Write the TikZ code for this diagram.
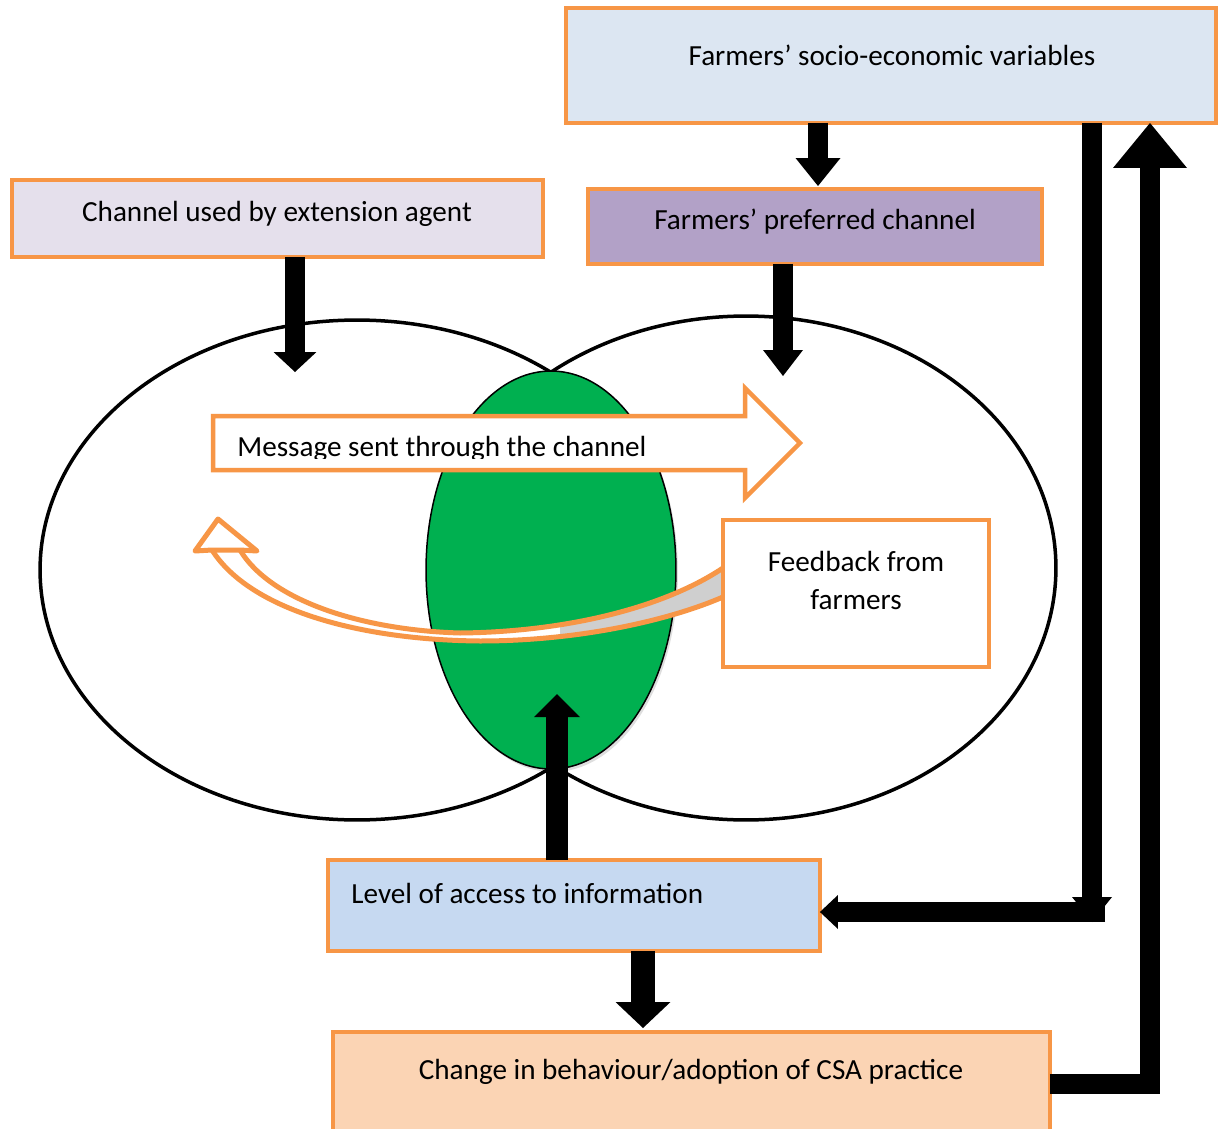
\documentclass[tikz,border=0pt]{standalone}
\usepackage{fontspec}
\setmainfont{Carlito}
\usetikzlibrary{arrows.meta}
\definecolor{orn}{HTML}{F79646}
\definecolor{socfill}{HTML}{DCE6F2}
\definecolor{preffill}{HTML}{B2A1C7}
\definecolor{chanfill}{HTML}{E5E0EC}
\definecolor{levfill}{HTML}{C6D9F1}
\definecolor{csafill}{HTML}{FBD4B4}
\definecolor{grn}{HTML}{00B050}
\definecolor{fbgray}{HTML}{CFCFCF}
\begin{document}
\begin{tikzpicture}[x=0.02cm,y=-0.02cm,
  txt/.style={font=\fontsize{16.6}{20}\selectfont, inner sep=0pt, anchor=base},
  box/.style={draw=orn, line width=0.08cm, inner sep=0pt, outer sep=0pt},
  blk/.style={draw=black, line width=0.4cm, line cap=butt, line join=miter}]
\useasboundingbox (0,0) rectangle (1218,1129);

% overlapping circles
\draw[line width=0.07cm, fill=white] (357,570) ellipse [x radius=6.34cm, y radius=5cm];
\draw[line width=0.07cm, fill=white] (746,568) ellipse [x radius=6.2cm, y radius=5.04cm];
\fill[black, opacity=0.13] (553,573) ellipse [x radius=2.5cm, y radius=3.98cm];
\draw[line width=0.03cm, fill=grn] (551,570) ellipse [x radius=2.5cm, y radius=3.98cm];

% message arrow
\draw[orn, line width=0.09cm, fill=white, line join=miter]
  (213,416) -- (745,416) -- (745,388) -- (800,443) -- (745,498) -- (745,470) -- (213,470) -- cycle;
\begin{scope}
  \clip (200,400) rectangle (760,458);
  \node[txt, anchor=base west] (msgtxt) at (237,456) {Message sent through the channel};
\end{scope}

% curved feedback arrow
\fill[white]
  (212,550) .. controls (250,610) and (360,640) .. (480,641)
  .. controls (580,641) and (670,620) .. (723,597)
  -- (723,568)
  .. controls (660,610) and (560,632) .. (460,633)
  .. controls (360,630) and (270,600) .. (240,550) -- cycle;
\begin{scope}
  \clip (560,500) rectangle (730,700);
  \fill[fbgray]
    (480,641) .. controls (580,641) and (670,620) .. (723,597)
    -- (723,568)
    .. controls (660,610) and (560,632) .. (460,633) -- cycle;
\end{scope}
\draw[orn, line width=0.1cm, line join=round, fill=white]
  (218,519) -- (195,551) -- (212,550) -- (240,550) -- (257,551) -- cycle;
\draw[orn, line width=0.1cm, line join=round]
  (212,550) .. controls (250,610) and (360,640) .. (480,641)
  .. controls (580,641) and (670,620) .. (723,597);
\draw[orn, line width=0.1cm, line join=round]
  (723,568) .. controls (660,610) and (560,632) .. (460,633)
  .. controls (360,630) and (270,600) .. (240,550);

% boxes
\node[box, fill=socfill, minimum width=13cm, minimum height=2.3cm] (socio) at (891,65.5) {};
\node[txt] at (892,65) {Farmers’ socio-economic variables};

\node[box, fill=preffill, minimum width=9.08cm, minimum height=1.5cm] (pref) at (815,226.5) {};
\node[txt] at (815,229) {Farmers’ preferred channel};

\node[box, fill=chanfill, minimum width=10.62cm, minimum height=1.54cm] (chan) at (277.5,218.5) {};
\node[txt] at (277,221) {Channel used by extension agent};

\node[box, fill=white, minimum width=5.32cm, minimum height=2.94cm] (feed) at (856,593.5) {};
\node[txt] at (856,571) {Feedback from};
\node[txt] at (856,609) {farmers};

\node[box, fill=levfill, minimum width=9.84cm, minimum height=1.82cm] (level) at (574,905.5) {};
\node[txt, anchor=base west] at (351,903) {Level of access to information};

\node[box, fill=csafill, minimum width=14.34cm, minimum height=2.2cm] (csa) at (691.5,1087) {};
\node[txt] at (691,1079) {Change in behaviour/adoption of CSA practice};

% black block connectors
\coordinate (t1) at (818,186);
\draw[blk, -{Triangle[width=0.9cm,length=0.56cm,line width=0pt]}] (socio.south -| t1) -- (t1);
\coordinate (t2) at (295,372);
\draw[blk, -{Triangle[width=0.86cm,length=0.4cm,line width=0pt]}] (chan.south -| t2) -- (t2);
\coordinate (t3) at (783,376);
\draw[blk, -{Triangle[width=0.8cm,length=0.52cm,line width=0pt]}] (pref.south -| t3) -- (t3);
\coordinate (t4) at (557,694);
\draw[blk, line width=0.44cm, -{Triangle[width=0.92cm,length=0.46cm,line width=0pt]}] (level.north -| t4) -- (t4);
\coordinate (t5) at (643,1028);
\draw[blk, line width=0.48cm, -{Triangle[width=1.1cm,length=0.52cm,line width=0pt]}] (level.south -| t5) -- (t5);
\coordinate (t6) at (1092,922);
\draw[blk, -{Triangle[width=0.8cm,length=0.5cm,line width=0pt]}] (socio.south -| t6) -- (t6);
\coordinate (h1) at (1105,912);
\draw[blk, -{Triangle[width=0.68cm,length=0.36cm,line width=0pt]}] (h1) -- (h1 -| level.east);
\coordinate (r1) at (1150,1084);
\draw[blk, -{Triangle[width=1.48cm,length=0.9cm,line width=0pt]}] (r1 -| csa.east) -| (socio.south -| r1);
\end{tikzpicture}
\end{document}
